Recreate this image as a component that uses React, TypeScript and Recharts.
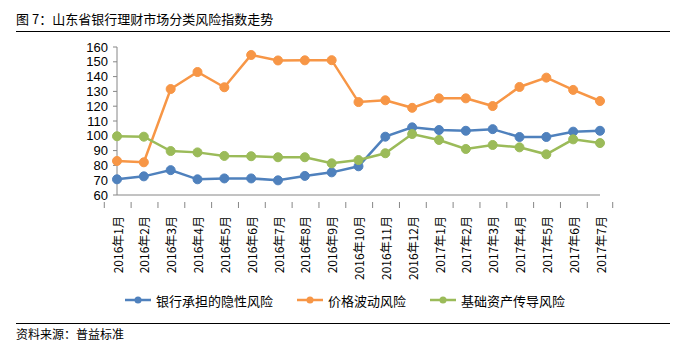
import React from 'react';
import { LineChart, Line, XAxis, YAxis } from 'recharts';

const categories = ['2016年1月','2016年2月','2016年3月','2016年4月','2016年5月','2016年6月','2016年7月','2016年8月','2016年9月','2016年10月','2016年11月','2016年12月','2017年1月','2017年2月','2017年3月','2017年4月','2017年5月','2017年6月','2017年7月'];
const bankRisk = [70.6, 72.6, 76.8, 70.6, 71.2, 71.2, 69.9, 72.9, 75.3, 79.4, 99.4, 105.7, 103.9, 103.4, 104.5, 99.2, 99.2, 102.8, 103.4];
const priceRisk = [83.0, 82.1, 131.6, 143.1, 132.8, 154.6, 150.9, 151.0, 151.1, 122.8, 124.0, 118.9, 125.3, 125.3, 120.1, 133.0, 139.3, 131.0, 123.5];
const assetRisk = [99.7, 99.4, 89.7, 88.8, 86.4, 86.2, 85.5, 85.5, 81.4, 83.6, 88.2, 101.2, 97.2, 91.1, 93.8, 92.2, 87.5, 97.6, 95.1];
const yTicks = [60, 70, 80, 90, 100, 110, 120, 130, 140, 150, 160];
const seriesNames = ['银行承担的隐性风险', '价格波动风险', '基础资产传导风险'];
const seriesColors = ['#4F81BD', '#F79646', '#9BBB59'];

const data = categories.map((c, i) => ({ name: c, bank: bankRisk[i], price: priceRisk[i], asset: assetRisk[i] }));

const PLOT_LEFT = 117;
const PLOT_RIGHT = 600;
const BAND = (PLOT_RIGHT - PLOT_LEFT) / categories.length;
const AXIS_COLOR = '#868686';

const XTick = (props: any) => {
  const { x, y, payload, index } = props;
  const left = x - BAND / 2;
  const right = x + BAND / 2;
  return (
    <g>
      <line x1={left} x2={left} y1={y - 1} y2={y + 5} stroke={AXIS_COLOR} strokeWidth={1} />
      {index === categories.length - 1 && (
        <line x1={right} x2={right} y1={y - 1} y2={y + 5} stroke={AXIS_COLOR} strokeWidth={1} />
      )}
      <text
        x={x}
        y={y + 13}
        transform={`rotate(-90, ${x}, ${y + 13})`}
        textAnchor="end"
        dominantBaseline="central"
        fontSize={12}
        fill="#000"
        fontFamily="'Noto Sans CJK SC', 'Liberation Sans', sans-serif"
      >
        {payload.value}
      </text>
    </g>
  );
};

export default function App() {
  return (
    <div style={{ position: 'fixed', left: 0, top: 0, width: 679, height: 349, background: '#fff', fontFamily: "'Noto Sans CJK SC', sans-serif" }}>
      <div style={{ position: 'absolute', left: 16, top: 11, fontSize: 13, lineHeight: '16px', color: '#000', whiteSpace: 'nowrap' }}>
        图 7：山东省银行理财市场分类风险指数走势
      </div>
      <div style={{ position: 'absolute', left: 16, top: 31, width: 654, height: 1, background: '#000' }} />
      <LineChart
        width={679}
        height={349}
        data={data}
        margin={{ top: 47, right: 679 - PLOT_RIGHT, bottom: 0, left: 0 }}
        style={{ position: 'absolute', left: 0, top: 0 }}
      >
        <XAxis
          dataKey="name"
          interval={0}
          height={154}
          tickLine={false}
          axisLine={{ stroke: AXIS_COLOR }}
          tick={<XTick />}
        />
        <YAxis
          width={PLOT_LEFT}
          domain={[60, 160]}
          ticks={yTicks}
          interval={0}
          tickSize={4}
          tickMargin={5}
          axisLine={{ stroke: AXIS_COLOR }}
          tickLine={{ stroke: AXIS_COLOR }}
          tick={{ fontSize: 13, fill: '#000', fontFamily: "'Liberation Sans', Arial, sans-serif" }}
        />
        <Line dataKey="bank" name={seriesNames[0]} stroke={seriesColors[0]} strokeWidth={2.5} dot={{ r: 4.5, fill: seriesColors[0], stroke: seriesColors[0], strokeWidth: 1 }} isAnimationActive={false} />
        <Line dataKey="price" name={seriesNames[1]} stroke={seriesColors[1]} strokeWidth={2.5} dot={{ r: 4.5, fill: seriesColors[1], stroke: seriesColors[1], strokeWidth: 1 }} isAnimationActive={false} />
        <Line dataKey="asset" name={seriesNames[2]} stroke={seriesColors[2]} strokeWidth={2.5} dot={{ r: 4.5, fill: seriesColors[2], stroke: seriesColors[2], strokeWidth: 1 }} isAnimationActive={false} />
      </LineChart>
      {[125, 297, 430].map((lx, i) => (
        <div key={i} style={{ position: 'absolute', left: lx, top: 290, height: 20, display: 'flex', alignItems: 'center', whiteSpace: 'nowrap' }}>
          <svg width={26} height={10} style={{ marginRight: 5 }}>
            <line x1={0} x2={26} y1={5} y2={5} stroke={seriesColors[i]} strokeWidth={2.5} />
            <circle cx={13} cy={5} r={3.5} fill={seriesColors[i]} />
          </svg>
          <span style={{ fontSize: 13, color: '#000' }}>{seriesNames[i]}</span>
        </div>
      ))}
      <div style={{ position: 'absolute', left: 16, top: 323, width: 654, height: 1, background: '#000' }} />
      <div style={{ position: 'absolute', left: 16, top: 326, fontSize: 12, lineHeight: '16px', color: '#000', whiteSpace: 'nowrap' }}>
        资料来源：普益标准
      </div>
    </div>
  );
}
